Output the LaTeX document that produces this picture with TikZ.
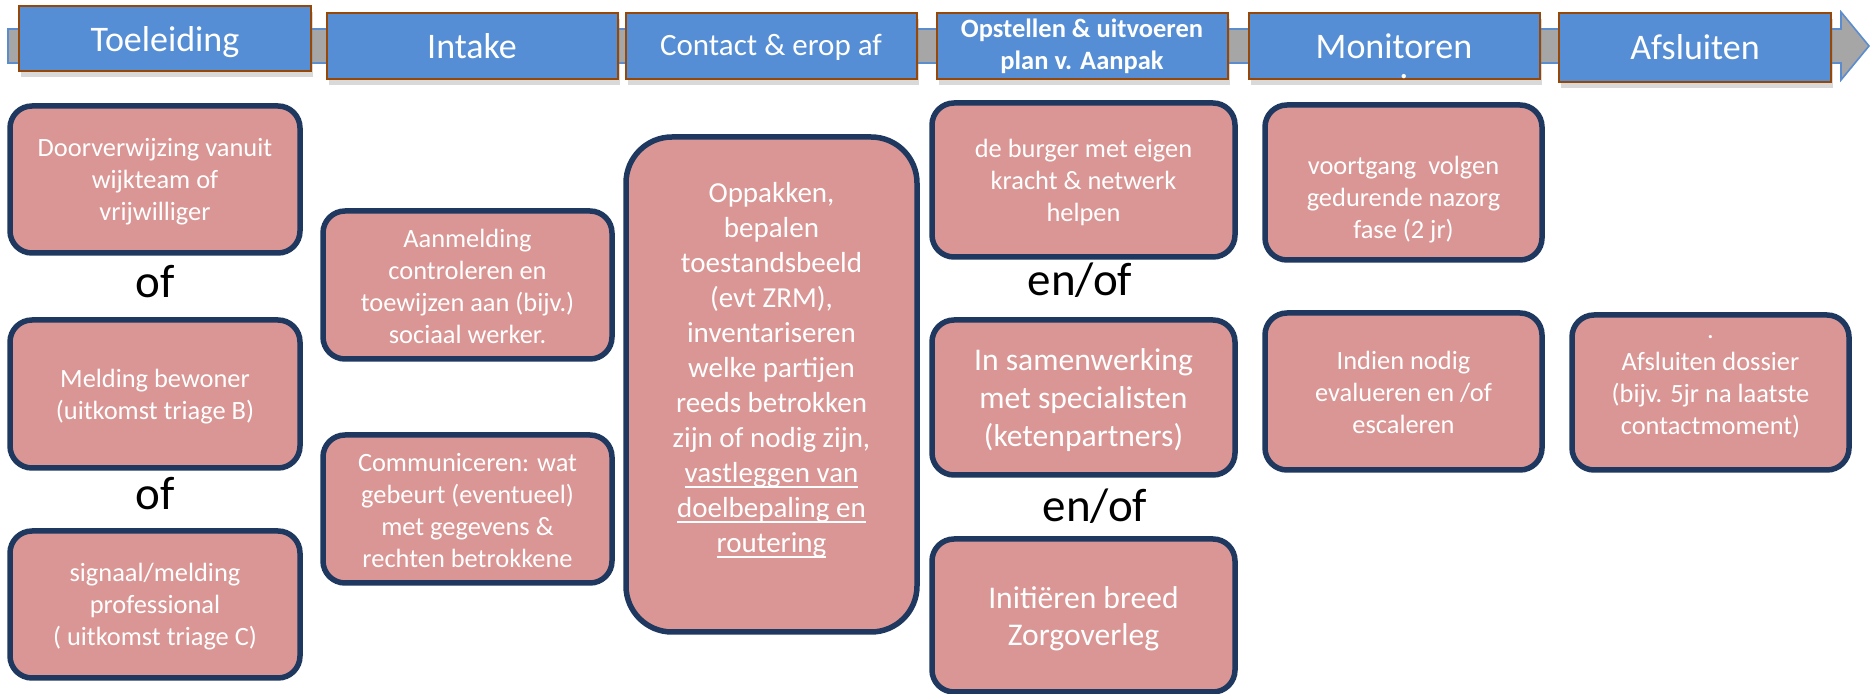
\documentclass[tikz,border=0pt]{standalone}
\usepackage{fontspec}
\setmainfont{Carlito}
\usepackage{tikz}
\usetikzlibrary{shadows}
\definecolor{headblue}{RGB}{85,142,213}
\definecolor{headedge}{RGB}{152,72,6}
\definecolor{bandgray}{RGB}{166,166,166}
\definecolor{bandedge}{RGB}{91,140,205}
\definecolor{boxrose}{RGB}{217,150,148}
\definecolor{boxnavy}{RGB}{31,56,96}
\newcommand{\ulline}[1]{\setbox0=\hbox{#1}\rlap{\rule[-0.2em]{\wd0}{0.9pt}}\box0}

\begin{document}
\begin{tikzpicture}[x=0.5pt,y=-0.5pt,
  header/.style={draw=headedge,line width=1pt,fill=headblue,
    drop shadow={opacity=0.3,shadow xshift=1pt,shadow yshift=-3pt}},
  headtext/.style={text=white,anchor=base,inner sep=0pt,font=\fontsize{18}{22}\selectfont},
  pinkbox/.style={draw=boxnavy,line width=2.75pt,fill=boxrose,rounded corners=11pt},
  boxtext/.style={text=white,align=center,inner sep=0pt,font=\fontsize{13.2}{16}\selectfont},
  ortext/.style={inner sep=0pt,font=\fontsize{23.5}{28}\selectfont}]
\useasboundingbox (0,0) rectangle (1870,694);

% Process arrow
\draw[line width=0.8pt,draw=bandedge,fill=bandgray] (8,29) -- (1841,29) -- (1841,12)
  -- (1869,46) -- (1841,80) -- (1841,63) -- (8,63) -- cycle;

% Phase headers
\draw[header] (19,6) rectangle (311,71);
\draw[header] (327,13) rectangle (618,79);
\draw[header] (626,13) rectangle (917,79);
\draw[header] (937,13) rectangle (1228,79);
\draw[header] (1249,13) rectangle (1540,79);
\draw[header] (1559,13) rectangle (1831,82);
\node[headtext] (toeleiding) at (165,52) {Toeleiding};
\node[headtext] (intake) at (472,59) {Intake};
\node[headtext,font=\fontsize{15.5}{19}\selectfont] (contact) at (771,56) {Contact \& erop af};
\node[text=white,align=center,inner sep=0pt,font=\fontsize{13.25}{16}\selectfont\bfseries]
  (opstellen) at (1082,46.5) {Opstellen \& uitvoeren\\plan v. Aanpak};
\node[headtext] (monitoren) at (1394,59) {Monitoren};
\node[headtext] (monitorendot) at (1404,79) {.};
\node[headtext] (afsluiten) at (1695,60) {Afsluiten};

% Toeleiding
\draw[pinkbox] (10,106) rectangle (300,253);
\draw[pinkbox] (10,320) rectangle (300,468);
\draw[pinkbox] (10,531) rectangle (300,678);
\node[boxtext] (doorverwijzing) at (155,182) {Doorverwijzing vanuit\\wijkteam of\\vrijwilliger};
\node[boxtext] (melding) at (155,396.5) {Melding bewoner\\(uitkomst triage B)};
\node[boxtext] (signaal) at (155,607) {signaal/melding\\professional\\( uitkomst triage C)};
\node[ortext] (of1) at (155,282) {of};
\node[ortext] (of2) at (155,494) {of};

% Intake
\draw[pinkbox] (323,211) rectangle (612,359);
\draw[pinkbox] (323,435) rectangle (612,583);
\node[boxtext] (aanmelding) at (467.5,286.5) {Aanmelding\\controleren en\\toewijzen aan (bijv.)\\sociaal werker.};
\node[boxtext] (communiceren) at (467.5,510.5) {Communiceren: wat\\gebeurt (eventueel)\\met gegevens \&\\rechten betrokkene};

% Contact & erop af
\draw[pinkbox,rounded corners=23pt] (626,137) rectangle (917,632);
\node[boxtext,font=\fontsize{14.5}{17.5}\selectfont] (oppakken) at (771.5,370)
  {Oppakken,\\bepalen\\toestandsbeeld\\(evt ZRM),\\inventariseren\\welke partijen\\reeds betrokken\\zijn of nodig zijn,\\\ulline{vastleggen van}\\\ulline{doelbepaling en}\\\ulline{routering}};

% Opstellen & uitvoeren plan
\draw[pinkbox] (932,103) rectangle (1235,257);
\draw[pinkbox] (932,320) rectangle (1235,475);
\draw[pinkbox] (932,539) rectangle (1235,692);
\node[boxtext] (burger) at (1083.5,182) {de burger met eigen\\kracht \& netwerk\\helpen};
\node[boxtext,font=\fontsize{15.8}{19}\selectfont] (samenwerking) at (1083.5,400.5) {In samenwerking\\met specialisten\\(ketenpartners)};
\node[boxtext,font=\fontsize{15.8}{18.5}\selectfont] (zorgoverleg) at (1083.5,619) {Initiëren breed\\Zorgoverleg};
\node[ortext] (enof1) at (1080,280) {en/of};
\node[ortext] (enof2) at (1095,506) {en/of};

% Monitoren
\draw[pinkbox] (1265,105) rectangle (1542,260);
\draw[pinkbox] (1265,313) rectangle (1542,470);
\node[boxtext] (voortgang) at (1403.5,200) {voortgang\ \ volgen\\gedurende nazorg\\fase (2 jr)};
\node[boxtext] (escaleren) at (1403.5,392.5) {Indien nodig\\evalueren en /of\\escaleren};

% Afsluiten
\draw[pinkbox] (1572,315) rectangle (1849,470);
\node[boxtext] (dossier) at (1710.5,386.8) {.\\Afsluiten dossier\\(bijv. 5jr na laatste\\contactmoment)};
\end{tikzpicture}
\end{document}
